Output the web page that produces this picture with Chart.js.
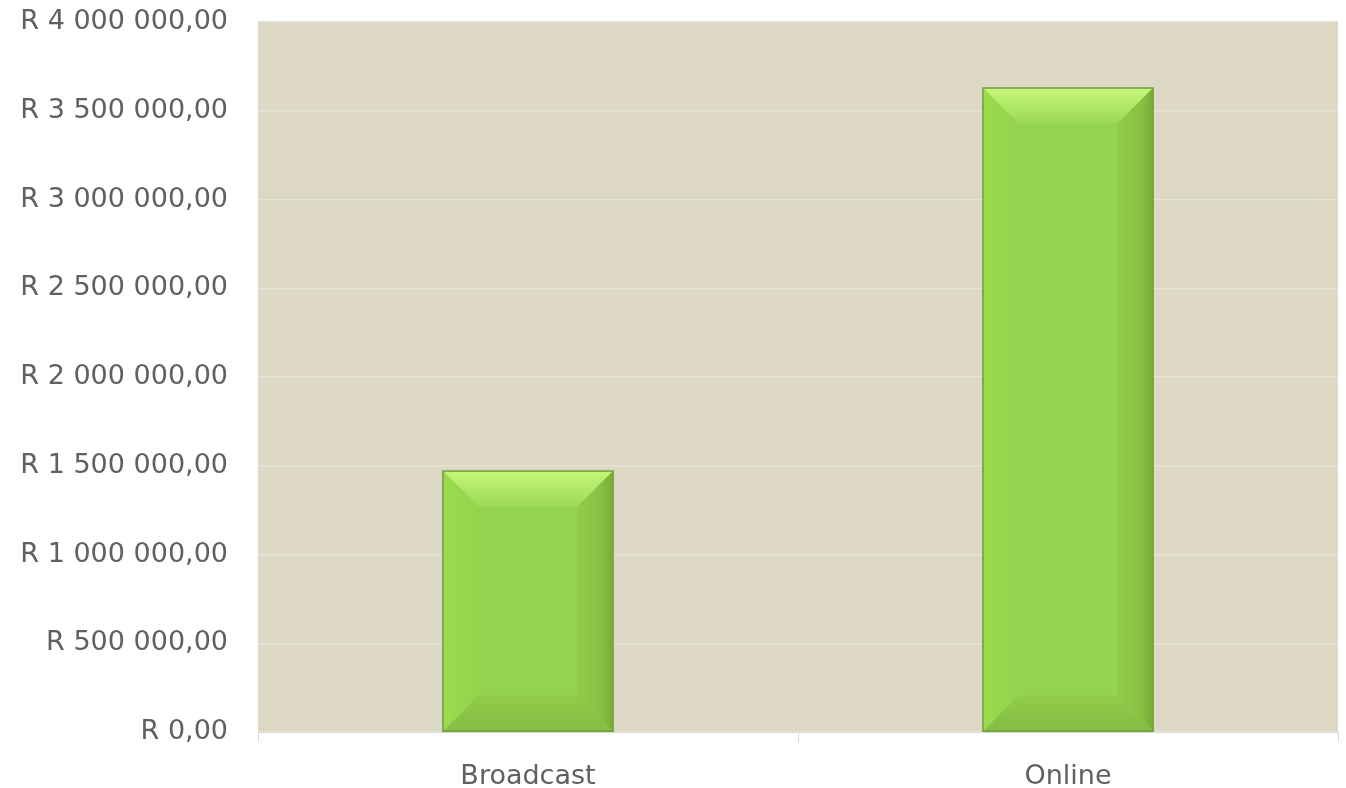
<!DOCTYPE html>
<html>
<head>
<meta charset="utf-8">
<script src="https://cdn.jsdelivr.net/npm/chart.js@4/dist/chart.umd.min.js"></script>
<style>
  html, body { margin: 0; padding: 0; background: #ffffff; }
  #wrap { width: 1346px; height: 788px; }
</style>
</head>
<body>
<div id="wrap"><canvas id="chart" width="1346" height="788"></canvas></div>
<script>
const categories = ['Broadcast', 'Online'];
const spend = [1470000, 3628000];
const yMin = 0;
const yMax = 4000000;
const yStep = 500000;

function formatRand(v) {
  const parts = v.toFixed(2).split('.');
  const whole = parts[0].replace(/\B(?=(\d{3})+(?!\d))/g, ' ');
  return 'R ' + whole + ',' + parts[1];
}

// beige plot background
const plotBackground = {
  id: 'plotBackground',
  beforeDraw(chart) {
    const { ctx, chartArea: a } = chart;
    ctx.save();
    ctx.fillStyle = '#ddd8c3';
    ctx.fillRect(a.left, a.top, a.right - a.left, a.bottom - a.top);
    ctx.restore();
  }
};

// bevelled look on the bars, using the bar elements' own geometry
const bevel = {
  id: 'bevel',
  afterDatasetsDraw(chart) {
    const ctx = chart.ctx;
    chart.getDatasetMeta(0).data.forEach(bar => {
      const l = bar.x - bar.width / 2, r = bar.x + bar.width / 2;
      const t = bar.y, btm = bar.base;
      const b = Math.min(36, bar.width / 4, (btm - t) / 4);
      ctx.save();
      // top face
      let g = ctx.createLinearGradient(0, t, 0, t + b);
      g.addColorStop(0, '#c6f57a');
      g.addColorStop(0.5, '#b0e866');
      g.addColorStop(1, '#9ad955');
      ctx.fillStyle = g;
      ctx.beginPath();
      ctx.moveTo(l, t); ctx.lineTo(r, t); ctx.lineTo(r - b, t + b); ctx.lineTo(l + b, t + b);
      ctx.closePath(); ctx.fill();
      // left face
      g = ctx.createLinearGradient(l, 0, l + b, 0);
      g.addColorStop(0, '#9bdb4e');
      g.addColorStop(1, '#94d34d');
      ctx.fillStyle = g;
      ctx.beginPath();
      ctx.moveTo(l, t); ctx.lineTo(l + b, t + b); ctx.lineTo(l + b, btm - b); ctx.lineTo(l, btm);
      ctx.closePath(); ctx.fill();
      // right face
      g = ctx.createLinearGradient(r - b, 0, r, 0);
      g.addColorStop(0, '#90cc4a');
      g.addColorStop(0.7, '#86c043');
      g.addColorStop(1, '#76aa38');
      ctx.fillStyle = g;
      ctx.beginPath();
      ctx.moveTo(r, t); ctx.lineTo(r - b, t + b); ctx.lineTo(r - b, btm - b); ctx.lineTo(r, btm);
      ctx.closePath(); ctx.fill();
      // bottom face
      g = ctx.createLinearGradient(0, btm - b, 0, btm);
      g.addColorStop(0, '#90cc4b');
      g.addColorStop(1, '#85be43');
      ctx.fillStyle = g;
      ctx.beginPath();
      ctx.moveTo(l, btm); ctx.lineTo(l + b, btm - b); ctx.lineTo(r - b, btm - b); ctx.lineTo(r, btm);
      ctx.closePath(); ctx.fill();
      // outline
      ctx.strokeStyle = '#729e3a';
      ctx.lineWidth = 1.5;
      ctx.strokeRect(l, t, r - l, btm - t);
      ctx.restore();
    });
  }
};

const tickFont = { family: '"DejaVu Sans", sans-serif', size: 27 };

new Chart(document.getElementById('chart'), {
  type: 'bar',
  data: {
    labels: categories,
    datasets: [{
      data: spend,
      backgroundColor: '#93d34f',
      borderWidth: 0,
      categoryPercentage: 1,
      barPercentage: 0.315
    }]
  },
  options: {
    responsive: false,
    animation: false,
    layout: { padding: { top: 22, right: 8, left: 0, bottom: 0 } },
    plugins: {
      legend: { display: false },
      tooltip: { enabled: false }
    },
    scales: {
      x: {
        grid: {
          display: true,
          drawOnChartArea: false,
          drawTicks: true,
          tickLength: 10,
          color: '#d9d9d9',
          offset: true
        },
        border: { display: true, color: '#d9d9d9' },
        ticks: { color: '#606060', font: tickFont, padding: 19 },
        afterFit(scale) { scale.height = 56; }
      },
      y: {
        min: yMin,
        max: yMax,
        grid: { color: '#e6e2d6', lineWidth: 1.5, drawTicks: false },
        border: { display: false },
        ticks: {
          stepSize: yStep,
          color: '#606060',
          font: tickFont,
          padding: 30,
          callback: v => formatRand(v)
        },
        afterFit(scale) {
          scale.width = 258;
          scale.paddingTop = 0;
          scale.paddingBottom = 0;
        }
      }
    }
  },
  plugins: [plotBackground, bevel]
});
</script>
</body>
</html>
